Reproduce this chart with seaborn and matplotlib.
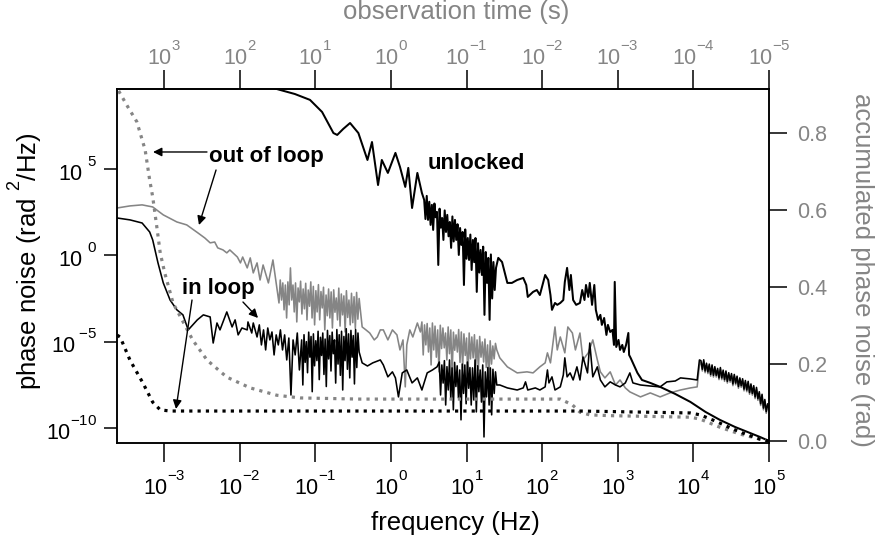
import numpy as np
import matplotlib
matplotlib.use('Agg')
import matplotlib.pyplot as plt
import matplotlib._mathtext as mathtext_internals
from matplotlib.ticker import NullLocator
import seaborn as sns

sns.set_theme(style='ticks')
plt.rcParams['font.family'] = ['Liberation Sans', 'DejaVu Sans']
plt.rcParams['mathtext.default'] = 'regular'
plt.rcParams['text.color'] = 'black'
plt.rcParams['axes.labelcolor'] = 'black'
# raise the exponents higher, like the original (Igor-style) tick labels
for name in ['FontConstantsBase', 'DejaVuSansFontConstants']:
    if hasattr(mathtext_internals, name):
        getattr(mathtext_internals, name).sup1 = 1.15
GRAY = '#858585'

# ---- data (log10 frequency, log10 phase noise PSD) ----
# unlocked
unl_head_lf = [-1.73, -1.51, -1.27, -1.07, -0.91, -0.76, -0.71, -0.63, -0.54, -0.43, -0.31,
               -0.25, -0.17, -0.12, -0.04, 0.06, 0.12, 0.19, 0.23, 0.28, 0.35, 0.41]
unl_head_ls = [9.98, 9.63, 9.34, 9.00, 8.30, 7.08, 6.97, 7.32, 7.66, 7.08, 5.52,
               6.56, 4.07, 5.52, 4.77, 5.93, 5.12, 3.96, 5.06, 2.74, 4.77, 3.61]
unl_noise_span = (0.44, 1.39)
unl_noise_ls = [3.21, 2.10, 3.44, 2.05, 3.10, 1.76, 2.92, 1.47, 3.00, 2.20, 2.51, -0.56, 2.70,
                1.60, 2.16, 0.89, 2.60, 1.35, 2.34, 1.10, 1.93, 0.43, 2.25, 0.80, 2.05, 0.89,
                1.80, 0.02, 1.58, 0.60, 1.35, -1.72, 1.50, -0.20, 1.00, -0.27, 1.20, -0.85, 0.89,
                -0.40, 1.00, -2.12, 0.70, -1.00, 0.31, -1.14, 0.50, -3.45, 0.19, -1.60, -0.15,
                -3.74, 0.05, -2.50, -0.39, -2.01, -0.73]
unl_tail_lf = [1.42, 1.47, 1.54, 1.60, 1.67, 1.75, 1.79, 1.81, 1.88, 1.93, 1.97, 2.04, 2.08, 2.11,
               2.13, 2.17, 2.20, 2.24, 2.28, 2.30, 2.33, 2.36, 2.38, 2.41, 2.45, 2.50, 2.53, 2.56,
               2.58, 2.61, 2.63, 2.66, 2.69, 2.71, 2.74, 2.77, 2.79, 2.82, 2.85, 2.87, 2.90, 2.93,
               2.95, 2.96, 2.98, 3.01, 3.03, 3.06, 3.08, 3.11, 3.14, 3.15, 3.17, 3.20, 3.26, 3.32,
               3.43, 3.56, 3.76, 3.96, 4.16, 4.35, 4.55, 4.75, 4.88, 5.00]
unl_tail_ls = [-0.15, -0.39, -1.60, -1.60, -1.43, -1.31, -1.72, -2.41, -2.12, -2.01, -2.30, -1.14,
               -1.43, -2.30, -3.16, -2.76, -2.87, -2.76, -2.59, -1.54, -0.73, -2.01, -1.14, -2.59,
               -2.87, -2.76, -2.01, -2.59, -1.72, -2.41, -1.60, -2.87, -1.72, -3.16, -3.74, -3.45,
               -4.03, -3.63, -4.61, -4.03, -4.44, -4.32, -5.19, -1.54, -5.31, -4.90, -5.48, -5.19,
               -5.60, -5.19, -4.50, -5.77, -5.94, -6.23, -6.81, -7.22, -7.39, -7.62, -8.03, -8.49,
               -9.07, -9.53, -9.94, -10.29, -10.52, -10.75]

# in loop
in_head_lf = [-3.62, -3.45, -3.29, -3.19, -3.15, -3.08, -3.01, -2.92, -2.83, -2.75, -2.68, -2.56,
              -2.48, -2.39, -2.35, -2.30, -2.26, -2.17, -2.10, -2.06, -2.02, -1.97, -1.90, -1.89,
              -1.84, -1.82, -1.77]
in_head_ls = [2.16, 2.05, 1.87, 1.35, 0.89, -0.44, -1.60, -2.59, -3.16, -3.45, -4.32, -3.74,
              -3.45, -3.57, -5.08, -3.92, -4.32, -3.28, -4.15, -3.74, -4.61, -4.21, -4.32, -3.86,
              -4.50, -3.92, -4.73]
in_noise1a_span = (-1.74, -1.21)
in_noise1a_ls = [-4.03, -5.19, -4.32, -5.48, -4.21, -4.90, -4.44, -5.77, -4.61, -5.19, -4.32,
                 -5.48, -4.61, -6.06, -4.79, -8.09, -4.90, -5.77, -4.50, -6.64]
in_noise1b_span = (-1.18, -0.42)
in_noise1b_ls = [-4.90, -7.51, -4.60, -6.20, -5.00, -6.80, -4.45, -5.90, -4.70, -7.90, -4.55,
                 -6.40, -4.95, -6.10, -4.40, -7.20, -4.75, -5.80, -4.50, -6.90, -4.85, -7.60,
                 -4.35, -6.00, -4.65, -6.70, -4.45, -5.70, -4.90, -7.40, -4.30, -6.30, -4.60,
                 -6.95, -4.40, -7.80, -4.70, -6.10, -4.25, -6.60, -4.55, -7.10, -4.35, -5.90,
                 -4.65, -7.45, -4.30, -6.50, -4.50, -5.60]
in_mid_lf = [-0.38, -0.31, -0.24, -0.14, -0.10, -0.04, 0.02, 0.06, 0.10, 0.15, 0.21, 0.28, 0.35,
             0.41, 0.48, 0.55, 0.61]
in_mid_ls = [-6.23, -6.41, -6.23, -6.06, -6.35, -7.04, -6.75, -7.10, -8.20, -6.81, -6.64, -7.39,
             -7.10, -7.80, -6.81, -6.64, -6.46]
in_noise2_span = (0.64, 1.40)
in_noise2_ls = [-6.18, -8.09, -6.35, -7.40, -6.10, -8.67, -6.45, -7.80, -6.06, -8.30, -6.52, -8.95,
                -6.20, -7.60, -6.40, -8.26, -6.64, -9.53, -6.30, -8.00, -6.35, -8.60, -6.18, -7.70,
                -6.50, -8.67, -6.52, -8.38, -6.06, -9.07, -6.40, -7.90, -6.64, -8.50, -6.35,
                -10.52, -6.75, -8.20, -6.50, -8.67, -6.52, -9.24, -6.60, -8.00, -6.75, -7.51]
in_tail_lf = [1.44, 1.54, 1.67, 1.75, 1.78, 1.81, 1.91, 1.97, 2.04, 2.07, 2.09, 2.13, 2.17, 2.24,
              2.28, 2.30, 2.33, 2.37, 2.41, 2.46, 2.50, 2.54, 2.60, 2.63, 2.67, 2.73, 2.77, 2.83,
              2.90, 2.97, 3.03, 3.10, 3.16, 3.20, 3.30, 3.43, 3.56, 3.65, 3.76, 3.83, 3.96, 4.05,
              4.08]
in_tail_ls = [-7.51, -7.68, -7.80, -7.68, -7.33, -7.80, -7.68, -7.80, -7.62, -6.64, -7.39, -7.04,
              -7.80, -7.62, -6.93, -5.94, -7.04, -6.81, -7.22, -6.46, -7.22, -5.89, -6.81, -5.08,
              -7.04, -6.46, -7.22, -7.62, -7.33, -7.51, -7.62, -7.39, -6.81, -7.39, -7.51, -7.57,
              -7.62, -7.33, -7.28, -7.10, -7.16, -7.22, -6.06]
in_hf_span = (4.10, 5.00)
in_hf_ls = [-6.10, -6.60, -6.05, -6.70, -6.25, -6.75, -6.30, -6.90, -6.35, -6.95, -6.45, -6.95,
            -6.55, -7.10, -6.50, -7.10, -6.65, -7.20, -6.70, -7.30, -6.80, -7.25, -6.85, -7.45,
            -6.90, -7.40, -7.00, -7.60, -7.10, -7.55, -7.15, -7.75, -7.25, -7.80, -7.30, -7.95,
            -7.45, -8.00, -7.55, -8.20, -7.65, -8.30, -7.90, -8.60, -8.05, -8.85, -8.35, -9.05,
            -8.60, -8.90]

# out of loop
out_head_lf = [-3.62, -3.45, -3.29, -3.15, -3.01, -2.83, -2.70, -2.55, -2.46, -2.39, -2.33, -2.29,
               -2.22, -2.17, -2.13, -2.03, -1.99, -1.96, -1.90, -1.86, -1.82, -1.77, -1.73, -1.69,
               -1.62, -1.56, -1.51]
out_head_ls = [2.74, 2.86, 2.92, 2.80, 2.34, 1.93, 1.76, 1.29, 1.00, 0.72, 0.77, 0.43, 0.31, 0.14,
               0.31, -0.10, -0.44, -0.10, -0.73, -0.15, -1.02, -0.44, -1.43, -0.56, -1.60, -0.27,
               -1.83]
out_noise1_span = (-1.48, -0.42)
out_noise1_ls = [-2.76, -1.43, -2.59, -1.60, -3.16, -1.72, -3.63, -1.54, -2.87, -0.73, -2.59,
                 -1.72, -3.28, -1.60, -3.86, -1.89, -2.70, -1.50, -3.40, -1.95, -3.10, -1.62,
                 -3.74, -2.01, -2.95, -1.54, -3.63, -1.80, -4.03, -2.05, -3.28, -1.70, -3.74,
                 -2.10, -3.05, -1.85, -4.32, -2.30, -3.50, -1.95, -3.63, -2.12, -4.21, -2.00,
                 -3.30, -2.47, -3.74, -1.90, -4.10, -2.24, -3.45, -2.35, -4.44, -2.05, -3.60,
                 -2.59, -4.03, -2.20, -3.90, -2.40, -4.25, -2.15, -3.70, -2.50]
out_mid_lf = [-0.38, -0.33, -0.28, -0.22, -0.18, -0.14, -0.10, -0.04, 0.02, 0.08, 0.12, 0.16,
              0.19, 0.21, 0.25, 0.29, 0.35, 0.39]
out_mid_ls = [-4.15, -4.32, -4.50, -4.90, -4.73, -4.32, -4.32, -4.90, -4.32, -4.61, -5.48, -4.90,
              -7.62, -5.19, -4.32, -4.73, -3.92, -4.44]
out_noise2_span = (0.41, 1.40)
out_noise2_ls = [-3.86, -5.77, -4.03, -5.19, -3.95, -5.60, -4.21, -6.35, -3.92, -5.48, -4.10,
                 -5.90, -4.32, -6.75, -4.05, -5.40, -4.21, -5.36, -4.50, -6.06, -4.15, -5.70,
                 -4.32, -6.93, -4.45, -5.50, -4.61, -5.60, -4.30, -6.20, -4.44, -6.52, -4.55,
                 -5.80, -4.79, -7.22, -4.50, -6.00, -4.73, -5.94, -4.60, -6.40, -4.90, -6.64,
                 -4.70, -5.90, -5.02, -6.18, -4.85, -6.50, -5.19, -7.10, -4.95, -6.30, -5.25,
                 -6.00, -5.10, -5.48]
out_tail_lf = [1.44, 1.54, 1.67, 1.80, 1.88, 1.97, 2.04, 2.07, 2.11, 2.17, 2.20, 2.24, 2.30, 2.34,
               2.40, 2.44, 2.50, 2.54, 2.61, 2.67, 2.73, 2.77, 2.83, 2.90, 2.97, 3.03, 3.10, 3.16,
               3.30, 3.43, 3.56, 3.69, 3.83, 3.96, 4.05, 4.08]
out_tail_ls = [-5.94, -6.46, -6.81, -6.75, -6.81, -6.46, -6.23, -5.65, -6.23, -4.15, -5.48, -4.73,
               -5.65, -4.15, -4.50, -5.48, -4.50, -6.06, -5.65, -4.90, -6.06, -6.75, -7.10, -6.75,
               -7.51, -7.22, -7.68, -7.91, -8.20, -7.97, -8.20, -7.97, -7.80, -7.68, -7.62, -6.35]
out_hf_span = (4.10, 5.00)
out_hf_ls = [-6.20, -6.70, -6.15, -6.80, -6.35, -6.85, -6.40, -7.00, -6.45, -7.05, -6.55, -7.05,
             -6.65, -7.20, -6.60, -7.20, -6.75, -7.30, -6.80, -7.40, -6.90, -7.35, -6.95, -7.55,
             -7.00, -7.50, -7.10, -7.70, -7.20, -7.65, -7.25, -7.85, -7.35, -7.90, -7.40, -8.05,
             -7.55, -8.10, -7.65, -8.30, -7.75, -8.40, -8.00, -8.70, -8.15, -8.95, -8.45, -9.15,
             -8.70, -9.00]

# accumulated phase noise (rad), right axis
acc_in_lf = [-3.62, -3.58, -3.45, -3.28, -3.15, -3.05, -2.92, 2.50, 3.96, 4.09, 4.29, 4.49, 4.69,
             4.88, 5.00]
acc_in = [0.275, 0.270, 0.210, 0.151, 0.101, 0.081, 0.078, 0.078, 0.073, 0.068, 0.052, 0.034,
          0.018, 0.005, 0.0]
acc_out_lf = [-3.60, -3.48, -3.36, -3.25, -3.19, -3.15, -3.09, -3.05, -2.99, -2.88, -2.76, -2.62,
              -2.43, -2.17, -1.86, -1.51, -1.20, -0.41, 2.24, 2.40, 2.50, 2.63, 2.90, 3.96, 4.09,
              4.35, 4.62, 4.88, 5.00]
acc_out = [0.909, 0.868, 0.829, 0.756, 0.678, 0.634, 0.548, 0.488, 0.436, 0.358, 0.314, 0.262,
           0.210, 0.166, 0.138, 0.119, 0.112, 0.109, 0.109, 0.094, 0.075, 0.068, 0.066, 0.062,
           0.057, 0.036, 0.018, 0.005, 0.0]

freq_ticks = [1e-3, 1e-2, 1e-1, 1e0, 1e1, 1e2, 1e3, 1e4, 1e5]
freq_labels = [r'$10^{-3}$', r'$10^{-2}$', r'$10^{-1}$', r'$10^{0}$', r'$10^{1}$',
               r'$10^{2}$', r'$10^{3}$', r'$10^{4}$', r'$10^{5}$']
time_ticks = [1e3, 1e2, 1e1, 1e0, 1e-1, 1e-2, 1e-3, 1e-4, 1e-5]
time_labels = [r'$10^{3}$', r'$10^{2}$', r'$10^{1}$', r'$10^{0}$', r'$10^{-1}$',
               r'$10^{-2}$', r'$10^{-3}$', r'$10^{-4}$', r'$10^{-5}$']
psd_ticks = [1e-10, 1e-5, 1e0, 1e5]
psd_labels = [r'$10^{-10}$', r'$10^{\:{-5}}$', r'$10^{\ 0}$', r'$10^{\ 5}$']
acc_ticks = [0.0, 0.2, 0.4, 0.6, 0.8]


def noise(span, vals):
    return np.linspace(span[0], span[1], len(vals)), vals


def curve(*pieces):
    lf = np.concatenate([np.asarray(p[0], float) for p in pieces])
    ls = np.concatenate([np.asarray(p[1], float) for p in pieces])
    return 10 ** lf, 10 ** ls


unl_f, unl_s = curve((unl_head_lf, unl_head_ls), noise(unl_noise_span, unl_noise_ls),
                     (unl_tail_lf, unl_tail_ls))
in_f, in_s = curve((in_head_lf, in_head_ls), noise(in_noise1a_span, in_noise1a_ls),
                   noise(in_noise1b_span, in_noise1b_ls),
                   (in_mid_lf, in_mid_ls), noise(in_noise2_span, in_noise2_ls),
                   (in_tail_lf, in_tail_ls), noise(in_hf_span, in_hf_ls))
out_f, out_s = curve((out_head_lf, out_head_ls), noise(out_noise1_span, out_noise1_ls),
                     (out_mid_lf, out_mid_ls), noise(out_noise2_span, out_noise2_ls),
                     (out_tail_lf, out_tail_ls), noise(out_hf_span, out_hf_ls))

fig = plt.figure(figsize=(8.8, 5.43), dpi=100)
ax = fig.add_axes([117 / 880, 1 - 443 / 543, 652 / 880, 354 / 543])
ax.set_xscale('log')
ax.set_yscale('log')

sns.lineplot(x=out_f, y=out_s, ax=ax, color=GRAY, linewidth=1.15, estimator=None, sort=False, legend=False)
sns.lineplot(x=in_f, y=in_s, ax=ax, color='black', linewidth=1.15, estimator=None, sort=False, legend=False)
sns.lineplot(x=unl_f, y=unl_s, ax=ax, color='black', linewidth=1.45, estimator=None, sort=False, legend=False)

ax.set_xlim(10 ** -3.622, 1e5)
ax.set_ylim(10 ** -10.87, 10 ** 9.63)
ax.set_xticks(freq_ticks, freq_labels)
ax.set_yticks(psd_ticks, psd_labels)
ax.xaxis.set_minor_locator(NullLocator())
ax.yaxis.set_minor_locator(NullLocator())
ax.tick_params(axis='x', direction='out', length=13.5, width=1.1, labelsize=15.5, pad=7.5,
               color='black', labelcolor='black')
ax.tick_params(axis='y', direction='out', length=9.5, width=1.1, labelsize=15.5, pad=5,
               color='black', labelcolor='black')
ax.set_xlabel('')
ax.set_ylabel('')
for sp in ax.spines.values():
    sp.set_linewidth(1.1)
    sp.set_color('black')

# right axis: accumulated phase noise
ax2 = ax.twinx()
sns.lineplot(x=10 ** np.array(acc_out_lf), y=acc_out, ax=ax2, color=GRAY, linewidth=2.3,
             linestyle=(0, (1, 1.6)), estimator=None, sort=False, legend=False)
sns.lineplot(x=10 ** np.array(acc_in_lf), y=acc_in, ax=ax2, color='black', linewidth=2.3,
             linestyle=(0, (1, 1.6)), estimator=None, sort=False, legend=False)
ax2.set_ylim(-0.005, 0.914)
ax2.set_xlim(10 ** -3.622, 1e5)
ax2.set_yticks(acc_ticks, [f'{v:.1f}' for v in acc_ticks])
ax2.yaxis.set_minor_locator(NullLocator())
ax2.tick_params(axis='y', direction='out', length=13, width=1.1, labelsize=15.5, pad=7,
                color='black', labelcolor=GRAY)
ax2.set_ylabel('')
for sp in ax2.spines.values():
    sp.set_linewidth(1.1)
    sp.set_color('black')


# top axis: observation time = 1/f
def inv(x):
    x = np.asarray(x, float)
    with np.errstate(divide='ignore'):
        return 1.0 / x


secax = ax.secondary_xaxis('top', functions=(inv, inv))
secax.set_xticks(time_ticks, time_labels)
secax.xaxis.set_minor_locator(NullLocator())
secax.tick_params(direction='out', length=14, width=1.1, labelsize=15.5, pad=0,
                  color='black', labelcolor=GRAY)
secax.spines['top'].set_linewidth(1.1)

# axis titles
fig.text(0.5176, 0.0368, 'frequency (Hz)', ha='center', va='center', fontsize=18.5, color='black')
fig.text(0.5182, 0.9779, 'observation time (s)', ha='center', va='center', fontsize=18.5, color=GRAY)
fig.text(0.028, 0.5193, r'phase noise (rad $^{2}$/Hz)', ha='center', va='center',
         rotation=90, fontsize=18.5, color='black')
fig.text(0.9795, 0.5028, 'accumulated phase noise (rad)', ha='center', va='center',
         rotation=-90, fontsize=18.5, color=GRAY)

# annotations
fig.text(0.3028, 0.7109, 'out of loop', ha='center', va='center', fontsize=16,
         fontweight='bold', color='black')
fig.text(0.5409, 0.6998, 'unlocked', ha='center', va='center', fontsize=16,
         fontweight='bold', color='black')
fig.text(0.2483, 0.4696, 'in loop', ha='center', va='center', fontsize=16,
         fontweight='bold', color='black')
arrow = dict(arrowstyle='-|>', color='black', lw=1.0, mutation_scale=13, shrinkA=0, shrinkB=0)
for tail, head in [((0.2352, 0.7201), (0.1739, 0.7201)),
                   ((0.2455, 0.6869), (0.2261, 0.5856)),
                   ((0.2182, 0.4475), (0.2000, 0.2468)),
                   ((0.2761, 0.4438), (0.2932, 0.4144))]:
    ax2.annotate('', xy=head, xytext=tail, xycoords='figure fraction',
                 textcoords='figure fraction', arrowprops=arrow)

fig.savefig('out.png', dpi=100)
